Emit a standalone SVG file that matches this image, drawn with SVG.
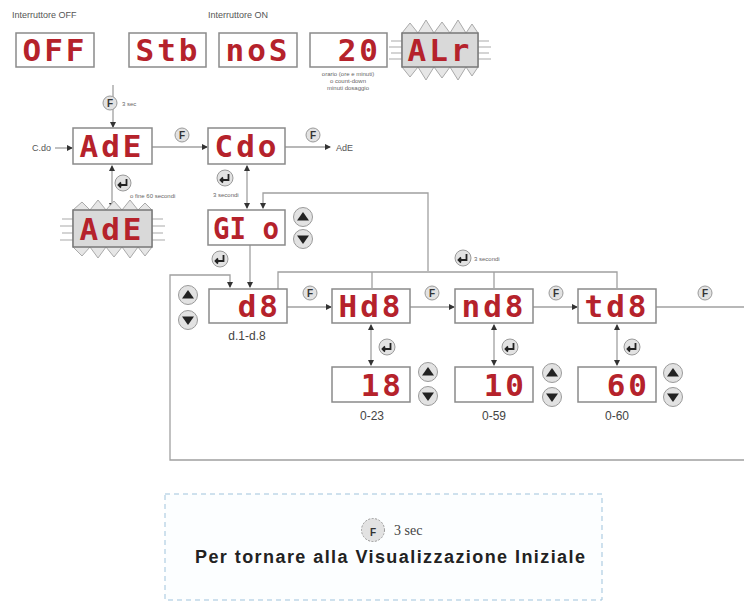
<svg xmlns="http://www.w3.org/2000/svg" width="744" height="603" viewBox="0 0 744 603">
<style>
.box{fill:#fff;stroke:#8a8a8a;stroke-width:1.5}
.blink{fill:#d9d9d9;stroke:#777;stroke-width:1.5}
.burst{fill:#e6e6e6;stroke:#aaa;stroke-width:1}
.ray{stroke:#aaa;stroke-width:1.2}
.disp{font-family:"DejaVu Sans Mono","Liberation Mono",monospace;font-weight:bold;font-size:31px;fill:#b5222b}
.lbl{font-family:"Liberation Sans",Arial,sans-serif;font-size:9px;fill:#555}
.sm{font-family:"Liberation Sans",Arial,sans-serif;font-size:6px;fill:#666}
.rng{font-family:"Liberation Sans",Arial,sans-serif;font-size:12px;fill:#444}
.ln{fill:none;stroke:#a0a0a0;stroke-width:1.3}
.btn{fill:#e2e2e2;stroke:#9a9a9a;stroke-width:1}
.fl{font-family:"Liberation Sans",Arial,sans-serif;font-size:10px;font-weight:bold;fill:#333;text-anchor:middle}
.tri{fill:#222}
.ent{fill:none;stroke:#222;stroke-width:1.8}
</style>
<defs>
<marker id="ah" markerWidth="6" markerHeight="6" refX="5" refY="3" orient="auto" markerUnits="userSpaceOnUse"><path d="M0,0 L6,3 L0,6 Z" fill="#333"/></marker>
<marker id="as" markerWidth="6" markerHeight="6" refX="1" refY="3" orient="auto" markerUnits="userSpaceOnUse"><path d="M6,0 L0,3 L6,6 Z" fill="#333"/></marker>
<g id="fbtn"><circle r="7" class="btn"/><text y="3.5" class="fl">F</text></g>
<g id="ebtn"><circle r="8" class="btn"/><path d="M3.5,-4 V2 H-4 M-2,-0.5 L-4.5,2 L-2,4.5" class="ent"/></g>
<g id="up"><circle r="9.5" class="btn"/><path d="M-6,3.5 L6,3.5 L0,-5 Z" class="tri"/></g>
<g id="dn"><circle r="9.5" class="btn"/><path d="M-6,-3.5 L6,-3.5 L0,5 Z" class="tri"/></g>
</defs>
<rect width="744" height="603" fill="#fff"/>

<text x="12" y="18" class="lbl">Interruttore OFF</text>
<text x="208" y="18" class="lbl">Interruttore ON</text>

<g id="connectors">
<path d="M113,85 V127" class="ln" marker-end="url(#ah)"/>
<path d="M55,148 H72" class="ln" marker-end="url(#ah)"/>
<path d="M152,147 H207" class="ln" marker-end="url(#ah)"/>
<path d="M285,147 H330" class="ln" marker-end="url(#ah)"/>
<path d="M112,166 V208" class="ln" marker-start="url(#as)" marker-end="url(#ah)"/>
<path d="M247,166 V208" class="ln" marker-start="url(#as)" marker-end="url(#ah)"/>
<path d="M428,271 V193 H263 V208" class="ln" marker-end="url(#ah)"/>
<path d="M250,245 V287" class="ln" marker-end="url(#ah)"/>
<path d="M744,460 H170 V275 H230 V287" class="ln" marker-end="url(#ah)"/>
<path d="M278,289 V272 H617 V288 M372,272 V288 M494,272 V288" class="ln"/>
<path d="M287,307 H331" class="ln" marker-end="url(#ah)"/>
<path d="M410,307 H454" class="ln" marker-end="url(#ah)"/>
<path d="M533,307 H577" class="ln" marker-end="url(#ah)"/>
<path d="M656,307 H744" class="ln"/>
<path d="M371,325 V365" class="ln" marker-start="url(#as)" marker-end="url(#ah)"/>
<path d="M494,325 V365" class="ln" marker-start="url(#as)" marker-end="url(#ah)"/>
<path d="M617,325 V365" class="ln" marker-start="url(#as)" marker-end="url(#ah)"/>
</g>

<g id="off"><rect x="16" y="33" width="78" height="34" class="box"/><text x="55" y="61" class="disp" text-anchor="middle" letter-spacing="3">OFF</text></g>
<g id="stb"><rect x="129" y="33" width="77" height="34" class="box"/><text x="168" y="61" class="disp" text-anchor="middle" letter-spacing="3">Stb</text></g>
<g id="nos"><rect x="219" y="33" width="78" height="34" class="box"/><text x="258" y="61" class="disp" text-anchor="middle" letter-spacing="3">noS</text></g>
<g id="t20"><rect x="310" y="33" width="77" height="34" class="box"/><text x="381" y="61" class="disp" text-anchor="end" letter-spacing="3">20</text>
<text x="348" y="76" class="sm" text-anchor="middle">orario (ore e minuti)</text>
<text x="348" y="83" class="sm" text-anchor="middle">o count-down</text>
<text x="348" y="90" class="sm" text-anchor="middle">minuti dosaggio</text></g>
<g id="alr">
<polygon points="402,33 410,23 418,33 426,20 434,33 442,22 450,33 458,20 466,33 472,24 478,33 478,67 472,76 466,67 458,80 450,67 442,78 434,67 426,80 418,67 410,77 402,67" class="burst"/>
<path d="M391,41 H402 M389,47 H402 M391,53 H402 M389,59 H402 M478,41 H489 M478,47 H491 M478,53 H489 M478,59 H491" class="ray"/>
<rect x="402" y="33" width="76" height="34" class="blink"/><text x="440" y="61" class="disp" text-anchor="middle" letter-spacing="3">ALr</text></g>

<use href="#fbtn" x="110" y="103"/><text x="122" y="106" class="sm" font-size="7">3 sec</text>

<g id="ade"><rect x="73" y="128" width="79" height="36" class="box"/><text x="112" y="157" class="disp" text-anchor="middle" letter-spacing="3">AdE</text></g>
<text x="32" y="151" class="lbl" font-size="8">C.do</text>
<use href="#fbtn" x="182" y="135"/>
<g id="cdo"><rect x="208" y="128" width="77" height="36" class="box"/><text x="247" y="157" class="disp" text-anchor="middle" letter-spacing="3">Cdo</text></g>
<use href="#fbtn" x="313" y="135"/>
<text x="336" y="151" class="lbl" font-size="8">AdE</text>

<use href="#ebtn" x="123" y="183"/>
<text x="130" y="198" class="sm">o fine 60 secondi</text>
<use href="#ebtn" x="225" y="178"/>
<text x="213" y="197" class="sm">3 secondi</text>

<g id="ade2">
<polygon points="73,210 82,202 90,210 98,200 106,210 114,201 122,210 130,200 138,210 145,203 152,210 152,247 145,256 138,247 130,258 122,247 114,257 106,247 98,258 90,247 82,256 73,247" class="burst"/>
<path d="M62,219 H73 M60,226 H73 M62,233 H73 M60,240 H73 M152,219 H163 M152,226 H165 M152,233 H163 M152,240 H165" class="ray"/>
<rect x="73" y="210" width="79" height="37" class="blink"/><text x="112" y="240" class="disp" text-anchor="middle" letter-spacing="3">AdE</text></g>

<g id="gio"><rect x="208" y="210" width="77" height="35" class="box"/><text x="213" y="239" class="disp" textLength="66" lengthAdjust="spacingAndGlyphs">GI o</text></g>
<use href="#up" x="303" y="217"/><use href="#dn" x="303" y="239"/>
<use href="#ebtn" x="220" y="259"/>
<use href="#ebtn" x="463" y="258"/><text x="474" y="261" class="sm">3 secondi</text>

<use href="#up" x="188" y="295"/><use href="#dn" x="188" y="320"/>
<g id="d8"><rect x="209" y="289" width="78" height="34" class="box"/><text x="281" y="317" class="disp" text-anchor="end" letter-spacing="3">d8</text></g>
<text x="247" y="340" class="rng" text-anchor="middle">d.1-d.8</text>
<use href="#fbtn" x="310" y="293"/>
<g id="hd8"><rect x="332" y="289" width="78" height="34" class="box"/><text x="371" y="317" class="disp" text-anchor="middle" letter-spacing="3">Hd8</text></g>
<use href="#fbtn" x="432" y="293"/>
<g id="nd8"><rect x="455" y="289" width="78" height="34" class="box"/><text x="494" y="317" class="disp" text-anchor="middle" letter-spacing="3">nd8</text></g>
<use href="#fbtn" x="556" y="293"/>
<g id="td8"><rect x="578" y="289" width="78" height="34" class="box"/><text x="617" y="317" class="disp" text-anchor="middle" letter-spacing="3">td8</text></g>
<use href="#fbtn" x="705" y="293"/>

<use href="#ebtn" x="387" y="347"/>
<use href="#ebtn" x="510" y="347"/>
<use href="#ebtn" x="632" y="347"/>

<g id="v18"><rect x="332" y="367" width="78" height="35" class="box"/><text x="404" y="396" class="disp" text-anchor="end" letter-spacing="3">18</text></g>
<use href="#up" x="428" y="372"/><use href="#dn" x="428" y="396"/>
<text x="372" y="420" class="rng" text-anchor="middle">0-23</text>
<g id="v10"><rect x="455" y="367" width="78" height="35" class="box"/><text x="527" y="396" class="disp" text-anchor="end" letter-spacing="3">10</text></g>
<use href="#up" x="552" y="373"/><use href="#dn" x="552" y="397"/>
<text x="494" y="420" class="rng" text-anchor="middle">0-59</text>
<g id="v60"><rect x="578" y="367" width="78" height="35" class="box"/><text x="650" y="396" class="disp" text-anchor="end" letter-spacing="3">60</text></g>
<use href="#up" x="673" y="373"/><use href="#dn" x="673" y="397"/>
<text x="617" y="420" class="rng" text-anchor="middle">0-60</text>

<g id="note">
<rect x="165" y="494" width="437" height="106" fill="#fcfeff" stroke="#9fc3dc" stroke-width="1" stroke-dasharray="5,4"/>
<circle cx="373" cy="530" r="11.5" class="btn" stroke-dasharray="2,1.5"/><text x="373" y="535.5" class="fl" font-size="15">F</text>
<text x="394" y="535" font-family="Liberation Serif,serif" font-size="14" fill="#444">3 sec</text>
<text x="195" y="563" font-family="Liberation Sans,Arial,sans-serif" font-size="18" font-weight="bold" fill="#222" textLength="390" lengthAdjust="spacing">Per tornare alla Visualizzazione Iniziale</text>
</g>
</svg>
